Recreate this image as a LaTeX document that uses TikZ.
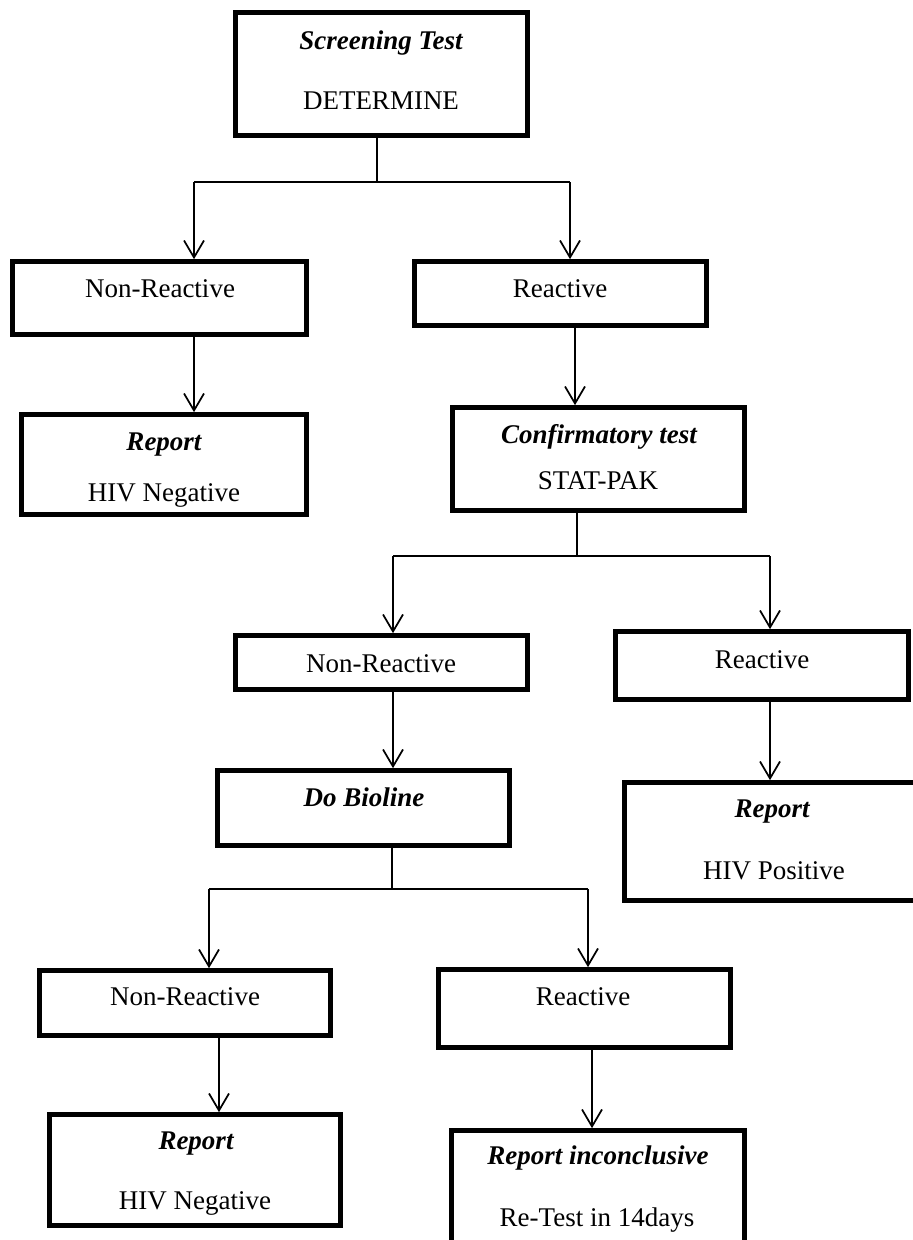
\documentclass[tikz,border=0pt]{standalone}
\usepackage{fontspec}
\setmainfont{Liberation Serif}
\usetikzlibrary{arrows.meta,fit}

\begin{document}
\begin{tikzpicture}[x=0.75pt,y=0.75pt,yscale=-1,xscale=1,
  box/.style={draw,line width=3.5pt,inner sep=0pt},
  lbl/.style={anchor=base,inner sep=0pt,font=\fontsize{20.25}{24}\selectfont},
  head/.style={anchor=base,inner sep=0pt,font=\fontsize{20.25}{24}\selectfont\bfseries\itshape},
  ln/.style={line width=1.3pt},
  arr/.style={line width=1.3pt,-{Straight Barb[length=12.75pt,width=15pt]}}]
\useasboundingbox (0,0) rectangle (913,1240);
\clip (0,0) rectangle (913,1240);

%Shape: Rectangle
\node[box, fit={(235.5,12.5) (527.5,135.5)}] (screen) {};
%Shape: Rectangle
\node[box, fit={(12.5,261.5) (306.5,334.5)}] (nonreact1) {};
%Shape: Rectangle
\node[box, fit={(414.5,261.5) (706.5,325.5)}] (react1) {};
%Shape: Rectangle
\node[box, fit={(21.5,414.5) (306.5,514.5)}] (report1) {};
%Shape: Rectangle
\node[box, fit={(452.5,407.5) (744.5,510.5)}] (confirm) {};
%Shape: Rectangle
\node[box, fit={(235.5,635.5) (527.5,689.5)}] (nonreact2) {};
%Shape: Rectangle
\node[box, fit={(615.5,631.5) (908.5,699.5)}] (react2) {};
%Shape: Rectangle
\node[box, fit={(217.5,770.5) (509.5,845.5)}] (bioline) {};
%Shape: Rectangle
\node[box, fit={(624.5,782.5) (930,900.5)}] (positive) {};
%Shape: Rectangle
\node[box, fit={(39.5,970.5) (330.5,1035.5)}] (nonreact3) {};
%Shape: Rectangle
\node[box, fit={(438.5,969.5) (730.5,1047.5)}] (react3) {};
%Shape: Rectangle
\node[box, fit={(49.5,1114.5) (340.5,1225.5)}] (report3) {};
%Shape: Rectangle
\node[box, fit={(451.5,1130.5) (744.5,1265)}] (inconcl) {};

%Straight Lines
\coordinate (split1) at (377,182);
\coordinate (split1L) at (194,182);
\coordinate (split1R) at (570,182);
\draw[ln] (screen.south -| split1) -- (split1);
\draw[ln] (split1L) -- (split1R);
\draw[arr] (split1L) -- (split1L |- nonreact1.north);
\draw[arr] (split1R) -- (split1R |- react1.north);
%Straight Lines
\coordinate (stem1) at (575,0);
\draw[arr] (nonreact1.south -| split1L) -- (report1.north -| split1L);
\draw[arr] (react1.south -| stem1) -- (confirm.north -| stem1);
%Straight Lines
\coordinate (split2) at (577,556);
\coordinate (split2L) at (393,556);
\coordinate (split2R) at (770,556);
\draw[ln] (confirm.south -| split2) -- (split2);
\draw[ln] (split2L) -- (split2R);
\draw[arr] (split2L) -- (split2L |- nonreact2.north);
\draw[arr] (split2R) -- (split2R |- react2.north);
\draw[arr] (nonreact2.south -| split2L) -- (bioline.north -| split2L);
\draw[arr] (react2.south -| split2R) -- (positive.north -| split2R);
%Straight Lines
\coordinate (split3) at (392,889);
\coordinate (split3L) at (209,889);
\coordinate (split3R) at (588,889);
\draw[ln] (bioline.south -| split3) -- (split3);
\draw[ln] (split3L) -- (split3R);
\draw[arr] (split3L) -- (split3L |- nonreact3.north);
\draw[arr] (split3R) -- (split3R |- react3.north);
%Straight Lines
\coordinate (stem3) at (219,0);
\coordinate (stem4) at (592,0);
\draw[arr] (nonreact3.south -| stem3) -- (report3.north -| stem3);
\draw[arr] (react3.south -| stem4) -- (inconcl.north -| stem4);

% Text Node
\node[head] (screenT) at (381,49) {Screening Test};
\node[lbl] (screenB) at (381,109) {DETERMINE};
% Text Node
\node[lbl] (nonreact1T) at (160,297) {Non-Reactive};
\node[lbl] (react1T) at (560,297) {Reactive};
% Text Node
\node[head] (report1T) at (164,450) {Report};
\node[lbl] (report1B) at (164,501) {HIV Negative};
% Text Node
\node[head] (confirmT) at (599,443) {Confirmatory test};
\node[lbl] (confirmB) at (598,489) {STAT-PAK};
% Text Node
\node[lbl] (nonreact2T) at (381,672) {Non-Reactive};
\node[lbl] (react2T) at (762,668) {Reactive};
% Text Node
\node[head] (biolineT) at (364,806) {Do Bioline};
\node[head] (positiveT) at (772,817) {Report};
\node[lbl] (positiveB) at (774,879) {HIV Positive};
% Text Node
\node[lbl] (nonreact3T) at (185,1005) {Non-Reactive};
\node[lbl] (react3T) at (583,1005) {Reactive};
% Text Node
\node[head] (report3T) at (196,1149) {Report};
\node[lbl] (report3B) at (195,1209) {HIV Negative};
\node[head] (inconclT) at (598,1164) {Report inconclusive};
\node[lbl] (inconclB) at (597,1226) {Re-Test in 14days};

\end{tikzpicture}
\end{document}
